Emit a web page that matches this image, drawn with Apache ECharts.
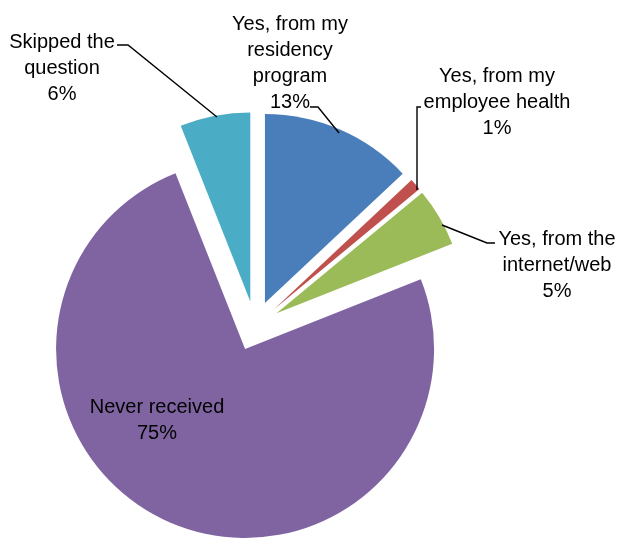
<!DOCTYPE html>
<html>
<head>
<meta charset="utf-8">
<script src="https://cdn.jsdelivr.net/npm/echarts@6/dist/echarts.min.js"></script>
<style>html,body{margin:0;padding:0;background:#fff}#c{width:618px;height:542px}</style>
</head>
<body>
<div id="c"></div>
<script>
var categories = ["Yes, from my\nresidency\nprogram", "Yes, from my\nemployee health", "Yes, from the\ninternet/web", "Never received", "Skipped the\nquestion"];
var values = [13, 1, 5, 75, 6];
var colors = ["#4A7EBB", "#C0504D", "#9BBB59", "#8064A2", "#4BACC6"];

// label placement (text centre) and leader lines, per slice
var labelPos = [[290, 63], [497, 102], [557, 265], [157, 420], [62, 68]];
var leaderLines = [
  [[339, 133], [318, 107], [310, 107]],
  [[417, 190], [417, 107], [421, 107]],
  [[442, 225], [487, 243], [495, 243]],
  null,
  [[217, 117], [128, 45], [117, 45]]
];

var chart = echarts.init(document.getElementById('c'), null, {renderer: 'canvas'});
var sliceData = categories.map(function (n, i) {
  return {name: n, value: values[i], selected: true, itemStyle: {color: colors[i]}};
});
var labelData = categories.map(function (n, i) {
  var d = {name: n, value: values[i]};
  if (!leaderLines[i]) d.labelLine = {show: false};
  return d;
});
var common = {
  type: 'pie',
  center: [255, 326],
  radius: 189,
  startAngle: 90,
  clockwise: true,
  avoidLabelOverlap: false,
  emphasis: {scale: false}
};
chart.setOption({
  animation: false,
  backgroundColor: '#fff',
  series: [
    Object.assign({}, common, {
      selectedMode: 'multiple',
      selectedOffset: 25,
      data: sliceData,
      label: {show: false},
      labelLine: {show: false}
    }),
    Object.assign({}, common, {
      silent: true,
      z: 3,
      data: labelData,
      itemStyle: {color: 'rgba(0,0,0,0)'},
      label: {
        show: true,
        position: 'outside',
        formatter: '{b}\n{c}%',
        fontFamily: 'Liberation Sans',
        fontSize: 20,
        lineHeight: 26,
        color: '#000',
        align: 'center'
      },
      labelLine: {show: true, lineStyle: {color: '#000', width: 1.4}},
      labelLayout: function (p) {
        var i = p.dataIndex;
        var r = {x: labelPos[i][0], y: labelPos[i][1], align: 'center', verticalAlign: 'middle'};
        if (leaderLines[i]) r.labelLinePoints = leaderLines[i];
        return r;
      }
    })
  ]
});
</script>
</body>
</html>
